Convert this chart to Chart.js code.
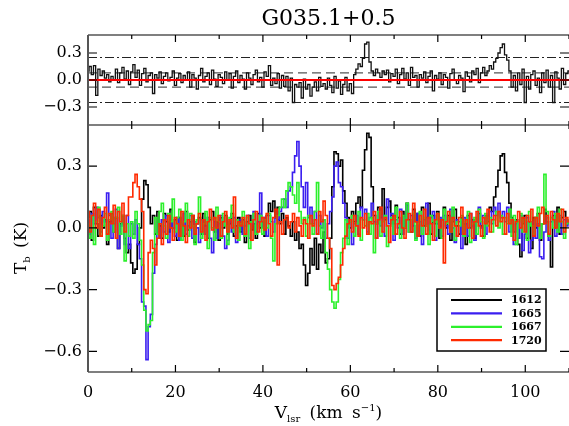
<!DOCTYPE html>
<html><head><meta charset="utf-8">
<script src="https://cdn.jsdelivr.net/npm/chart.js@4.4.1/dist/chart.umd.min.js"></script>
<style>
html,body{margin:0;padding:0;background:#fff;}
#wrap{position:relative;width:569px;height:426px;overflow:hidden;font-family:'DejaVu Serif',serif;color:#000;}
canvas{position:absolute;left:0;top:0;}
.t{position:absolute;white-space:nowrap;}
.sb{font-size:10px;position:relative;top:4px;}
.sp{font-size:10px;position:relative;top:-7px;}
</style></head><body>
<div id="wrap">
<canvas id="cTop" width="569" height="426"></canvas>
<canvas id="cBot" width="569" height="426"></canvas>
<div class="t" style="left:88px;width:481px;top:7px;font-size:22px;line-height:22px;text-align:center;">G035.1+0.5</div>
<div class="t" style="left:88px;width:481px;top:402px;font-size:17px;line-height:20px;text-align:center;word-spacing:4px;">V<span class="sb">lsr</span> (km s<span class="sp">&minus;1</span>)</div>
<div class="t" style="left:-40px;top:238px;width:120px;height:20px;font-size:17px;line-height:20px;text-align:center;transform:rotate(-90deg);word-spacing:3px;">T<span class="sb">b</span> (K)</div>
</div>
<script>
// channel grid
const V0 = 0.0, DV = 0.5;
const xRange = [0, 110];
const xTicks = [0, 20, 40, 60, 80, 100];
const topTicks = [-0.3, 0.0, 0.3];
const botTicks = [-0.6, -0.3, 0.0, 0.3];
const topRange = [-0.5, 0.5];
const botRange = [-0.7, 0.5];
const sigma3 = [0.25, -0.25];   // dash-dot levels
const sigma1 = [0.08, -0.08];   // dashed levels
const seriesNames = ['1612', '1665', '1667', '1720'];

// top panel: sum-rule residual spectrum
const diffSpec = [
0.10,0.15,0.06,0.16,-0.17,0.12,0.05,0.10,0.02,0.06,
-0.02,0.04,0.00,0.12,-0.03,0.08,0.14,0.01,0.10,-0.05,
0.09,0.17,0.03,0.11,-0.06,0.07,0.13,-0.02,0.05,0.08,
-0.15,0.06,0.02,0.09,-0.04,0.04,0.08,-0.01,0.03,0.10,
-0.06,0.02,0.07,-0.03,0.05,0.00,0.09,-0.08,0.06,0.02,
-0.10,0.05,0.13,-0.02,0.04,0.08,-0.05,0.11,0.01,-0.07,
0.06,0.03,-0.04,0.09,0.00,0.07,-0.09,0.04,0.10,-0.03,
0.05,0.01,-0.10,0.08,0.02,-0.05,0.06,0.11,-0.02,0.03,
-0.08,0.09,0.04,0.16,-0.06,0.02,-0.04,0.07,-0.09,0.05,
-0.07,0.04,-0.12,0.02,-0.25,-0.05,-0.08,-0.03,-0.20,0.01,
-0.10,-0.05,-0.18,-0.08,-0.02,-0.12,0.03,-0.07,-0.04,-0.10,
0.02,-0.06,-0.14,0.04,-0.09,-0.01,-0.16,-0.05,0.03,-0.12,
-0.04,-0.15,0.06,0.12,0.18,0.15,0.24,0.40,0.42,0.20,
0.10,0.05,0.12,0.08,0.03,0.10,0.06,0.11,-0.02,0.07,
0.04,0.12,-0.04,0.06,0.13,0.01,0.08,-0.06,0.14,0.03,
0.05,-0.08,0.06,0.02,0.09,-0.03,0.04,0.10,-0.12,0.05,
0.01,0.08,-0.05,0.06,0.03,-0.09,0.07,0.12,0.00,-0.04,
0.05,0.02,-0.13,0.09,0.04,-0.02,0.10,0.06,0.13,-0.03,
0.08,0.14,0.05,0.10,0.16,0.12,0.20,0.24,0.30,0.36,
0.40,0.28,0.22,0.10,-0.08,0.05,-0.12,0.08,-0.05,0.12,
-0.25,0.04,-0.10,0.06,0.10,-0.06,0.02,-0.14,0.08,-0.03,
0.11,-0.08,0.05,-0.25,0.09,0.02,-0.10,0.13,-0.05,0.07,
0.10];

const s1612 = [
0.05,0.08,-0.06,0.10,0.02,-0.04,0.06,0.00,0.04,-0.08,
0.03,0.07,-0.02,0.05,-0.10,0.02,0.06,-0.05,-0.12,-0.08,
-0.17,-0.22,-0.20,-0.08,0.00,0.14,0.23,0.21,0.10,0.02,
0.06,-0.03,0.08,0.01,-0.05,0.07,0.03,-0.02,0.09,0.00,
0.04,-0.06,0.05,0.02,-0.04,0.08,-0.01,0.03,0.06,-0.07,
0.02,0.05,-0.03,0.07,0.01,-0.05,0.04,0.08,-0.02,0.03,
-0.06,0.05,0.00,0.06,-0.03,0.02,0.07,-0.04,0.01,0.05,
-0.02,0.04,-0.07,0.03,0.06,-0.01,0.02,-0.05,0.07,0.00,
0.03,-0.04,0.06,0.12,0.08,0.13,0.05,0.10,0.02,0.07,
-0.03,0.05,0.01,-0.04,0.03,-0.06,-0.02,-0.10,-0.08,-0.18,
-0.28,-0.22,-0.10,-0.18,-0.05,-0.20,-0.08,-0.12,-0.02,-0.17,
-0.15,-0.05,0.20,0.37,0.36,0.30,0.33,0.18,0.12,0.05,
0.00,0.08,0.03,0.12,0.15,0.10,0.28,0.38,0.46,0.44,
0.20,0.06,0.02,0.10,0.05,0.19,0.04,0.10,0.13,0.06,
0.02,0.11,0.05,-0.03,0.08,0.00,0.12,0.04,-0.02,0.09,
0.03,0.07,-0.04,0.10,0.01,0.05,0.12,-0.03,0.06,0.02,
0.08,-0.05,0.04,0.10,0.00,0.06,-0.06,0.03,0.09,0.01,
-0.03,0.05,0.02,-0.08,0.06,0.00,0.04,-0.05,0.03,0.07,
0.01,-0.04,0.06,0.03,0.10,0.08,0.15,0.20,0.28,0.35,
0.36,0.27,0.22,0.12,0.05,-0.02,0.04,-0.08,-0.14,0.02,
0.06,-0.05,0.03,-0.10,0.05,0.00,0.07,-0.06,0.02,0.09,
0.03,-0.04,-0.19,0.06,0.00,0.10,-0.03,0.05,0.08,0.02,
0.04];

const s1665 = [
0.04,-0.03,0.07,0.02,0.10,0.05,-0.02,0.08,0.03,0.17,
0.06,-0.05,0.02,0.09,-0.10,0.01,0.05,-0.08,0.06,-0.10,
0.02,-0.03,0.04,-0.08,-0.15,-0.36,-0.38,-0.64,-0.48,-0.42,
-0.22,-0.08,0.02,-0.05,0.04,-0.02,0.06,-0.07,0.03,0.00,
-0.04,0.05,-0.06,0.02,0.07,-0.03,0.01,0.06,-0.05,0.03,
0.00,-0.07,0.04,0.02,-0.03,0.05,-0.05,-0.12,0.03,-0.05,
0.02,0.06,-0.04,-0.10,-0.06,0.03,-0.02,0.05,-0.07,0.00,
0.04,-0.03,0.01,0.06,-0.05,0.02,0.08,-0.02,0.03,0.17,
0.01,0.05,-0.04,0.06,0.03,-0.02,0.05,0.04,0.08,0.10,
0.14,0.10,0.18,0.20,0.27,0.35,0.42,0.30,0.20,0.10,
0.22,0.05,0.10,0.02,0.08,-0.03,0.06,0.00,0.04,-0.05,
0.02,0.08,0.15,0.30,0.32,0.22,0.20,0.12,0.05,-0.05,
0.03,-0.08,0.02,0.06,-0.03,0.10,0.04,0.09,-0.02,0.05,
0.12,0.03,-0.05,0.08,0.01,0.06,-0.04,0.14,0.02,0.07,
-0.06,0.04,0.00,0.09,-0.03,0.05,0.11,-0.02,0.06,0.01,
-0.05,0.07,0.03,-0.08,0.04,0.12,-0.01,0.05,0.08,-0.06,
0.02,0.05,-0.04,0.06,0.01,-0.03,0.09,0.00,-0.07,0.04,
0.03,-0.10,0.05,0.02,-0.04,0.07,0.01,-0.06,0.03,0.10,
0.00,0.06,-0.03,0.04,0.08,0.02,0.10,0.06,0.12,0.05,
0.08,0.03,0.10,-0.02,0.04,-0.08,0.02,-0.05,0.06,-0.11,
-0.03,0.05,-0.12,-0.06,0.03,-0.05,0.02,-0.14,-0.15,-0.02,
0.05,-0.06,0.03,0.08,-0.04,0.02,0.06,-0.03,0.04,0.01,
0.03];

const s1667 = [
0.02,-0.05,0.06,-0.08,0.03,0.10,-0.04,0.01,0.07,-0.06,
0.04,0.08,-0.02,0.05,0.10,-0.03,0.06,-0.16,0.02,-0.04,
0.03,-0.05,0.08,0.02,-0.06,-0.18,-0.40,-0.50,-0.47,-0.45,
-0.12,0.05,-0.03,0.08,0.12,0.01,-0.05,0.07,0.03,0.14,
-0.02,0.05,0.09,-0.06,0.03,0.12,-0.04,0.07,0.01,-0.08,
0.04,0.15,-0.05,0.02,0.08,-0.10,0.05,0.00,-0.06,0.10,
0.03,-0.05,0.07,0.01,-0.08,0.05,0.11,-0.02,0.04,-0.06,
0.02,0.08,-0.04,0.05,-0.10,0.03,0.07,-0.03,0.01,0.06,
-0.03,0.04,0.00,0.07,-0.05,-0.16,0.02,0.06,0.10,0.14,
0.10,0.18,0.22,0.20,0.16,0.12,0.22,0.08,0.02,0.05,
-0.04,0.06,0.02,-0.03,0.08,0.22,0.01,-0.05,0.04,-0.12,
-0.20,-0.30,-0.36,-0.39,-0.36,-0.25,-0.12,-0.05,0.04,-0.08,
0.03,0.06,-0.04,0.02,0.08,-0.06,0.04,0.01,0.07,-0.03,
0.05,-0.12,0.02,0.08,-0.04,0.03,0.06,-0.09,0.01,0.05,
-0.03,0.10,0.02,-0.05,0.06,0.00,0.12,-0.02,0.04,0.07,
-0.06,0.02,0.08,-0.03,0.05,0.01,-0.08,0.06,0.03,-0.04,
0.07,0.00,-0.05,0.09,0.02,0.05,-0.02,0.10,-0.06,0.03,
0.01,0.06,-0.04,0.03,0.08,-0.07,0.02,0.05,-0.03,0.09,
0.03,-0.05,0.07,0.01,0.05,-0.02,0.04,0.08,0.00,0.06,
-0.03,0.05,0.02,0.09,-0.04,0.06,-0.08,0.03,0.07,-0.02,
0.04,-0.06,0.08,0.01,-0.03,0.05,0.10,-0.05,0.02,0.26,
0.08,-0.04,0.05,0.00,0.07,-0.02,0.09,0.03,-0.05,0.02,
0.04];

const s1720 = [
0.08,-0.02,0.06,0.12,0.00,0.09,-0.04,0.05,0.10,-0.03,
0.07,0.02,0.11,-0.05,0.08,0.03,0.12,-0.02,0.06,0.15,
0.15,0.22,0.26,0.20,0.14,0.08,-0.30,-0.32,-0.12,-0.06,
-0.10,-0.18,-0.05,0.02,-0.08,0.04,-0.03,0.06,0.00,-0.06,
0.05,0.02,-0.04,0.08,0.01,-0.07,0.04,0.00,0.06,-0.03,
0.02,0.07,-0.02,0.04,-0.06,0.03,0.09,-0.01,0.05,0.00,
0.06,-0.04,0.03,0.08,-0.02,0.04,0.00,0.15,-0.05,0.03,
0.01,0.05,-0.03,0.06,0.02,-0.06,0.04,0.08,-0.02,0.03,
0.05,-0.01,0.07,0.02,-0.04,0.05,0.09,-0.18,0.03,-0.03,
0.04,0.06,0.00,0.03,0.07,-0.02,0.05,0.01,-0.04,0.04,
0.02,-0.05,0.06,0.01,0.04,-0.03,0.08,0.03,0.13,0.06,
-0.05,-0.10,-0.28,-0.30,-0.27,-0.24,-0.18,-0.10,-0.04,0.02,
0.04,-0.02,0.06,0.01,-0.04,0.05,0.00,0.07,-0.03,0.03,
0.02,0.08,-0.05,0.04,0.10,-0.02,0.05,0.01,-0.07,0.04,
0.06,-0.03,0.02,0.08,0.00,-0.05,0.04,0.07,-0.02,0.12,
0.03,-0.04,0.06,0.01,0.09,-0.03,0.05,0.02,-0.06,0.04,
0.07,0.00,0.04,-0.17,0.03,0.08,-0.02,0.05,0.01,-0.04,
0.05,0.10,-0.03,0.04,0.00,0.07,-0.05,0.03,0.08,0.01,
-0.04,0.05,0.02,0.09,-0.02,0.04,0.06,0.01,0.08,0.03,
0.05,-0.03,0.07,0.02,0.04,-0.06,0.03,0.08,0.00,0.05,
-0.02,0.06,0.03,0.09,-0.04,0.05,0.01,0.07,0.10,0.02,
0.06,-0.03,0.08,0.04,0.00,0.07,0.03,0.09,-0.02,0.05,
0.03];

const seriesColors = ['#000000', '#3a1ef0', '#2cf02c', '#ff2a00'];
const FONT = "'DejaVu Serif', serif";

function pts(arr) { return arr.map((y, i) => ({ x: V0 + i * DV, y: y })); }
function hline(v) { return [{ x: xRange[0], y: v }, { x: xRange[1], y: v }]; }
function fmtY(v) { return (v < -1e-9 ? '\u2212' : '') + Math.abs(v).toFixed(1); }

function drawTicks(chart, opt) {
  const ctx = chart.ctx, ca = chart.chartArea, xs = chart.scales.x, ys = chart.scales.y;
  ctx.save();
  ctx.strokeStyle = '#000';
  ctx.lineWidth = 1.2;
  ctx.beginPath();
  // horizontal frame lines
  opt.hlines.forEach(side => {
    const y = side === 'top' ? ca.top : ca.bottom;
    ctx.moveTo(ca.left, y); ctx.lineTo(ca.right, y);
  });
  // x ticks
  for (let v = xRange[0]; v <= xRange[1] + 1e-9; v += 10) {
    const px = xs.getPixelForValue(v);
    const major = Math.round(v) % 20 === 0;
    const len = major ? 7 : 4;
    if (opt.xTop) { ctx.moveTo(px, ca.top); ctx.lineTo(px, ca.top + len); }
    if (opt.xBot) { ctx.moveTo(px, ca.bottom); ctx.lineTo(px, ca.bottom - len); }
  }
  // y ticks left and right
  opt.yt.forEach(v => {
    const py = ys.getPixelForValue(v);
    ctx.moveTo(ca.left, py); ctx.lineTo(ca.left + 9, py);
    ctx.moveTo(ca.right, py); ctx.lineTo(ca.right - 9, py);
  });
  ctx.stroke();
  // left axis line
  ctx.strokeStyle = '#555';
  ctx.lineWidth = 2;
  ctx.beginPath();
  ctx.moveTo(ca.left, ca.top); ctx.lineTo(ca.left, ca.bottom);
  ctx.stroke();
  ctx.restore();
}

const framePlugin = {
  id: 'frame',
  afterDatasetsDraw(chart, args, o) { drawTicks(chart, o); }
};

const legendPlugin = {
  id: 'boxLegend',
  afterDraw(chart, args, o) {
    if (!o.show) return;
    const ctx = chart.ctx, ca = chart.chartArea;
    const x0 = ca.right - 132, y0 = ca.bottom - 83, w = 109, h = 62;
    ctx.save();
    ctx.fillStyle = '#fff';
    ctx.fillRect(x0, y0, w, h);
    ctx.strokeStyle = '#000';
    ctx.lineWidth = 1.5;
    ctx.strokeRect(x0, y0, w, h);
    ctx.font = "bold 11px " + FONT;
    ctx.textBaseline = 'middle';
    ctx.textAlign = 'left';
    seriesNames.forEach((nm, i) => {
      const y = y0 + 11 + i * 13.4;
      ctx.strokeStyle = seriesColors[i];
      ctx.lineWidth = 2.2;
      ctx.beginPath(); ctx.moveTo(x0 + 14, y); ctx.lineTo(x0 + 65, y); ctx.stroke();
      ctx.fillStyle = '#000';
      ctx.fillText(nm, x0 + 74, y + 0.5);
    });
    ctx.restore();
  }
};

Chart.register(framePlugin, legendPlugin);

const yTickOpts = {
  font: { family: FONT, size: 16 },
  color: '#000',
  padding: 6,
  callback: v => fmtY(v)
};

// ---- top panel ----
new Chart(document.getElementById('cTop'), {
  type: 'line',
  data: {
    datasets: [
      { data: hline(0), borderColor: '#ff0000', borderWidth: 2, pointRadius: 0, order: 0 },
      { data: pts(diffSpec), borderColor: '#111', borderWidth: 1.3, pointRadius: 0, stepped: 'middle', order: 1 },
      { data: hline(sigma3[0]), borderColor: '#222', borderWidth: 1, borderDash: [9, 3, 2, 3], pointRadius: 0, order: 2 },
      { data: hline(sigma3[1]), borderColor: '#222', borderWidth: 1, borderDash: [9, 3, 2, 3], pointRadius: 0, order: 2 },
      { data: hline(sigma1[0]), borderColor: '#555', borderWidth: 1.2, borderDash: [9, 5], pointRadius: 0, order: 2 },
      { data: hline(sigma1[1]), borderColor: '#555', borderWidth: 1.2, borderDash: [9, 5], pointRadius: 0, order: 2 }
    ]
  },
  options: {
    responsive: false, animation: false, devicePixelRatio: 1,
    layout: { padding: { left: 0, right: 0, top: 35, bottom: 301 } },
    plugins: {
      legend: { display: false }, tooltip: { enabled: false }, title: { display: false },
      frame: { hlines: ['top', 'bottom'], xTop: true, xBot: true, yt: topTicks },
      boxLegend: { show: false }
    },
    scales: {
      x: { type: 'linear', min: xRange[0], max: xRange[1], display: false },
      y: {
        min: topRange[0], max: topRange[1],
        afterFit(s) { s.width = 88; },
        afterBuildTicks(s) { s.ticks = topTicks.map(v => ({ value: v })); },
        ticks: yTickOpts,
        grid: { display: false, drawTicks: false },
        border: { display: false }
      }
    }
  }
});

// ---- bottom panel ----
const specs = [s1612, s1665, s1667, s1720];
new Chart(document.getElementById('cBot'), {
  type: 'line',
  data: {
    datasets: specs.map((s, i) => ({
      label: seriesNames[i], data: pts(s), borderColor: seriesColors[i],
      borderWidth: 1.6, pointRadius: 0, stepped: 'middle', order: 4 - i
    }))
  },
  options: {
    responsive: false, animation: false, devicePixelRatio: 1,
    layout: { padding: { left: 0, right: 0, top: 125, bottom: 0 } },
    plugins: {
      legend: { display: false }, tooltip: { enabled: false }, title: { display: false },
      frame: { hlines: ['bottom'], xTop: true, xBot: true, yt: botTicks },
      boxLegend: { show: true }
    },
    scales: {
      x: {
        type: 'linear', min: xRange[0], max: xRange[1],
        afterFit(s) { s.height = 54; },
        afterBuildTicks(s) { s.ticks = xTicks.map(v => ({ value: v })); },
        ticks: { font: { family: FONT, size: 16 }, color: '#000', padding: 11, maxRotation: 0, callback: v => String(v) },
        grid: { display: false, drawTicks: false },
        border: { display: false }
      },
      y: {
        min: botRange[0], max: botRange[1],
        afterFit(s) { s.width = 88; },
        afterBuildTicks(s) { s.ticks = botTicks.map(v => ({ value: v })); },
        ticks: yTickOpts,
        grid: { display: false, drawTicks: false },
        border: { display: false }
      }
    }
  }
});
</script>
</body></html>
